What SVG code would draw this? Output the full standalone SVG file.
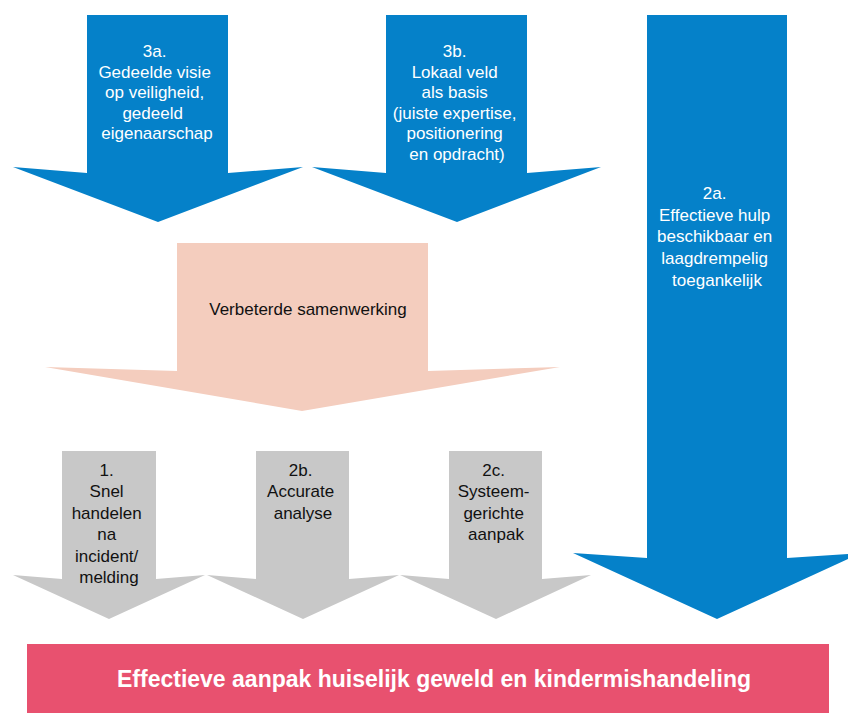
<svg xmlns="http://www.w3.org/2000/svg" width="848" height="713" viewBox="0 0 848 713">
  <style>
    .blue { fill: #0581C9; }
    .peach { fill: #F4CDBE; }
    .grey { fill: #C8C8C8; }
    .goal { fill: #E8516F; }
    text { font-family: "Liberation Sans", Arial, sans-serif; font-size: 17px; text-anchor: middle; }
    .light { fill: #FFFFFF; }
    .dark { fill: #111111; }
    .title { font-size: 23px; font-weight: bold; fill: #FFFFFF; }
  </style>

  <rect width="848" height="713" fill="#FFFFFF"/>

  <g id="connectors"></g>

  <!-- 3a: shared vision -->
  <g id="node-3a">
    <polygon class="blue" points="87,15 228,15 228,173 303,167 158,222 13,167 87,173"/>
    <text class="light">
      <tspan x="157" y="57">3a.</tspan>
      <tspan x="157" y="77.6">Gedeelde visie</tspan>
      <tspan x="157" y="98.2">op veiligheid,</tspan>
      <tspan x="155" y="118.8">gedeeld</tspan>
      <tspan x="157" y="139.4">eigenaarschap</tspan>
    </text>
  </g>

  <!-- 3b: local field -->
  <g id="node-3b">
    <polygon class="blue" points="386,15 527,15 527,173 601,167 457,222 312,167 386,173"/>
    <text class="light">
      <tspan x="457" y="57">3b.</tspan>
      <tspan x="457" y="77.6">Lokaal veld</tspan>
      <tspan x="457" y="98.2">als basis</tspan>
      <tspan x="457" y="118.8">(juiste expertise,</tspan>
      <tspan x="457" y="139.4">positionering</tspan>
      <tspan x="457" y="160">en opdracht)</tspan>
    </text>
  </g>

  <!-- 2a: long arrow on the right -->
  <g id="node-2a">
    <polygon class="blue" points="647,15 787,15 787,558 861,553 717,619 573,553 647,558"/>
    <text class="light">
      <tspan x="717" y="199">2a.</tspan>
      <tspan x="717" y="220.7">Effectieve hulp</tspan>
      <tspan x="717" y="242.4">beschikbaar en</tspan>
      <tspan x="717" y="264.1">laagdrempelig</tspan>
      <tspan x="717" y="285.8">toegankelijk</tspan>
    </text>
  </g>

  <!-- cooperation -->
  <g id="node-samenwerking">
    <polygon class="peach" points="177,243 428,243 428,371 560,367 302,411 45,367 177,371"/>
    <text class="dark" x="308" y="315">Verbeterde samenwerking</text>
  </g>

  <!-- 1: act quickly -->
  <g id="node-1">
    <polygon class="grey" points="62,451 156,451 156,579 205,575 109,619 13,575 62,579"/>
    <text class="dark">
      <tspan x="109" y="476">1.</tspan>
      <tspan x="109" y="497.4">Snel</tspan>
      <tspan x="109" y="518.8">handelen</tspan>
      <tspan x="109" y="540.2">na</tspan>
      <tspan x="109" y="561.6">incident/</tspan>
      <tspan x="109" y="583">melding</tspan>
    </text>
  </g>

  <!-- 2b: accurate analysis -->
  <g id="node-2b">
    <polygon class="grey" points="256,451 349,451 349,579 399,575 303,619 207,575 256,579"/>
    <text class="dark">
      <tspan x="303" y="476">2b.</tspan>
      <tspan x="303" y="497.4">Accurate</tspan>
      <tspan x="303" y="518.8">analyse</tspan>
    </text>
  </g>

  <!-- 2c: system-oriented approach -->
  <g id="node-2c">
    <polygon class="grey" points="449,451 542,451 542,579 591,575 496,619 400,575 449,579"/>
    <text class="dark">
      <tspan x="496" y="476">2c.</tspan>
      <tspan x="496" y="497.4">Systeem-</tspan>
      <tspan x="496" y="518.8">gerichte</tspan>
      <tspan x="496" y="540.2">aanpak</tspan>
    </text>
  </g>

  <!-- goal bar -->
  <g id="node-goal">
    <rect class="goal" x="27" y="644" width="802" height="69"/>
    <text class="title" x="434" y="687">Effectieve aanpak huiselijk geweld en kindermishandeling</text>
  </g>
</svg>
